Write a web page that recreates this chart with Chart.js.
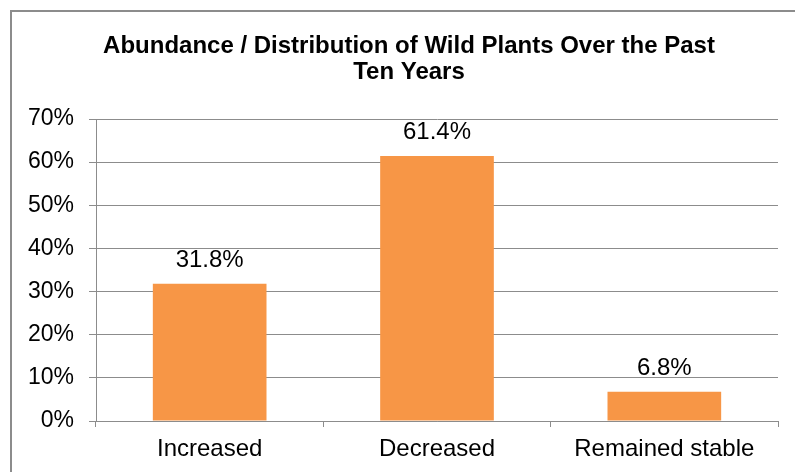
<!DOCTYPE html>
<html>
<head>
<meta charset="utf-8">
<script src="https://cdn.jsdelivr.net/npm/chart.js@4/dist/chart.umd.min.js"></script>
<style>
  html, body { margin: 0; padding: 0; background: #fff; }
  #wrap { width: 795px; height: 472px; }
</style>
</head>
<body>
<div id="wrap"><canvas id="plantsChart" width="795" height="472"></canvas></div>
<script>
const categories = ["Increased", "Decreased", "Remained stable"];
const shares = [31.8, 61.4, 6.8];
const titleLines = ["Abundance / Distribution of Wild Plants Over the Past", "Ten Years"];
const yMax = 70;
const yStep = 10;

const font = "'Liberation Sans', Arial, sans-serif";
const axisGray = "#8c8c8c";

// frame + title + value labels
const decorations = {
  id: "decorations",
  beforeDraw(chart) {
    const ctx = chart.ctx;
    ctx.save();
    ctx.fillStyle = "#fff";
    ctx.fillRect(0, 0, chart.width, chart.height);
    ctx.strokeStyle = axisGray;
    ctx.lineWidth = 2;
    ctx.strokeRect(11, 11, chart.width, chart.height);
    ctx.restore();
  },
  afterDraw(chart) {
    const ctx = chart.ctx;
    ctx.save();
    ctx.fillStyle = "#000";
    ctx.textAlign = "center";
    ctx.textBaseline = "alphabetic";
    ctx.font = `bold 24px ${font}`;
    titleLines.forEach((line, i) => ctx.fillText(line, 409, 53 + i * 26));

    ctx.font = `24px ${font}`;
    chart.getDatasetMeta(0).data.forEach((bar, i) => {
      ctx.fillText(shares[i].toFixed(1) + "%", bar.x, bar.y - 17);
    });
    ctx.restore();
  }
};

new Chart(document.getElementById("plantsChart"), {
  type: "bar",
  data: {
    labels: categories,
    datasets: [{
      data: shares,
      backgroundColor: "#f79646",
      borderWidth: 0,
      barPercentage: 0.5,
      categoryPercentage: 1
    }]
  },
  options: {
    responsive: false,
    animation: false,
    events: [],
    layout: { padding: { top: 119, right: 17, left: 0, bottom: 0 } },
    plugins: {
      legend: { display: false },
      title: { display: false },
      tooltip: { enabled: false }
    },
    scales: {
      x: {
        afterFit: (scale) => { scale.height = 51; },
        grid: {
          offset: true,
          drawOnChartArea: false,
          color: axisGray,
          tickLength: 6
        },
        border: { color: axisGray, width: 1 },
        ticks: { color: "#000", font: { family: font, size: 24 }, padding: 8 }
      },
      y: {
        min: 0,
        max: yMax,
        afterFit: (scale) => { scale.width = 96; },
        grid: { color: axisGray, lineWidth: 1, tickLength: 7 },
        border: { color: axisGray, width: 1 },
        ticks: {
          stepSize: yStep,
          color: "#000",
          padding: 15,
          font: { family: font, size: 23 },
          callback: (v) => v + "%"
        }
      }
    }
  },
  plugins: [decorations]
});
</script>
</body>
</html>
